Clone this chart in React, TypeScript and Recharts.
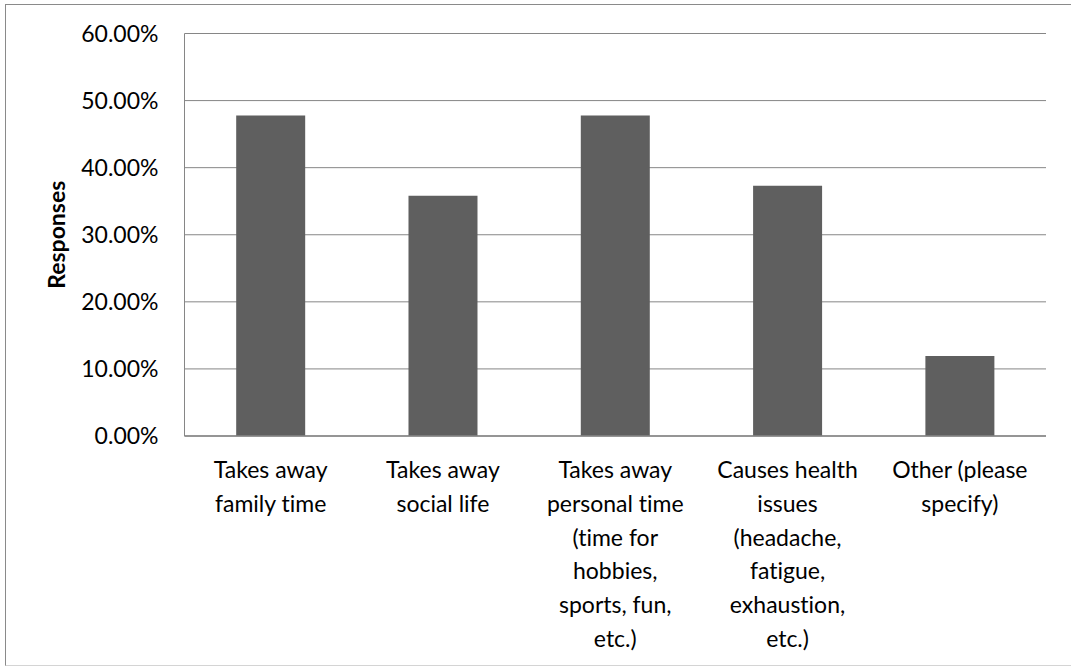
import React from 'react';
import { BarChart, Bar, XAxis, YAxis, CartesianGrid } from 'recharts';

// Category labels (line breaks mark where the axis label wraps)
const categories: string[] = [
  'Takes away\nfamily time',
  'Takes away\nsocial life',
  'Takes away\npersonal time\n(time for\nhobbies,\nsports, fun,\netc.)',
  'Causes health\nissues\n(headache,\nfatigue,\nexhaustion,\netc.)',
  'Other (please\nspecify)',
];

// Share of responses, in percent
const responses: number[] = [47.76, 35.82, 47.76, 37.31, 11.94];

const yTicks: number[] = [0, 10, 20, 30, 40, 50, 60];

const data = categories.map((name, i) => ({ name, value: responses[i] }));

const FONT = 'Lato, "Open Sans", sans-serif';
const GRID = '#868686';
const NO_LIGATURES = { fontVariantLigatures: 'none' as const };

const CategoryTick = (props: any) => {
  const { x, y, payload } = props;
  const lines: string[] = String(payload.value).split('\n');
  return (
    <g>
      {lines.map((line, i) => (
        <text
          key={i}
          x={x}
          y={y + 42 + i * 33.8}
          textAnchor="middle"
          fontFamily={FONT}
          fontSize={23}
          fill="#000"
          style={NO_LIGATURES}
        >
          {line}
        </text>
      ))}
    </g>
  );
};

const AxisTitle = (props: any) => {
  const { viewBox } = props;
  const cx = viewBox.x + 56;
  const cy = viewBox.y + viewBox.height / 2;
  return (
    <text
      x={cx}
      y={cy}
      transform={`rotate(-90 ${cx} ${cy})`}
      textAnchor="middle"
      dominantBaseline="central"
      fontFamily={FONT}
      fontWeight="bold"
      fontSize={23}
      fill="#000"
    >
      Responses
    </text>
  );
};

export default function App() {
  return (
    <div
      style={{
        position: 'absolute',
        left: 0,
        top: 0,
        width: 1071,
        height: 666,
        overflow: 'hidden',
        background: '#fff',
      }}
    >
      <div
        style={{
          position: 'absolute',
          left: 5,
          top: 4,
          width: 1100,
          height: 660,
          borderTop: '1px solid #8a8a8a',
          borderLeft: '1px solid #8a8a8a',
          borderBottom: '1px solid #d4d4d4',
        }}
      />
      <div style={{ position: 'absolute', left: 0, top: 0 }}>
        <BarChart
          width={1071}
          height={666}
          data={data}
          margin={{ top: 33.5, right: 25, left: 0, bottom: 0 }}
          barCategoryGap="30%"
        >
          <CartesianGrid vertical={false} stroke={GRID} strokeWidth={1} />
          <XAxis
            dataKey="name"
            height={230}
            interval={0}
            axisLine={{ stroke: GRID, strokeWidth: 1.5 }}
            tickLine={false}
            tickSize={0}
            tickMargin={0}
            tick={<CategoryTick />}
          />
          <YAxis
            width={184.5}
            domain={[0, 60]}
            ticks={yTicks}
            interval={0}
            axisLine={{ stroke: GRID, strokeWidth: 1 }}
            tickLine={false}
            tickSize={0}
            tickMargin={26}
            tickFormatter={(v: number) => `${v.toFixed(2)}%`}
            tick={{ fontFamily: FONT, fontSize: 23, fill: '#000' }}
            label={<AxisTitle />}
          />
          <Bar dataKey="value" fill="#5f5f5f" isAnimationActive={false} />
        </BarChart>
      </div>
    </div>
  );
}
